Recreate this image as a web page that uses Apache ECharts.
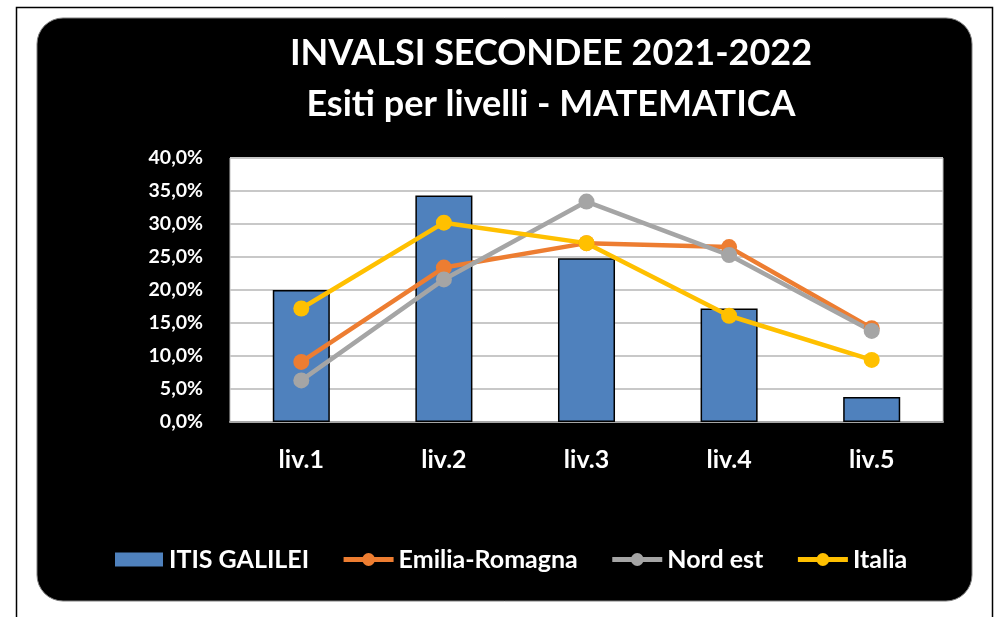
<!DOCTYPE html>
<html>
<head>
<meta charset="utf-8">
<script src="https://cdn.jsdelivr.net/npm/echarts@6/dist/echarts.min.js"></script>
<style>
  html, body { margin: 0; padding: 0; background: #ffffff; }
  #chart { width: 997px; height: 617px; }
</style>
</head>
<body>
<div id="chart"></div>
<script>
// livelli di apprendimento
const levels = ['liv.1', 'liv.2', 'liv.3', 'liv.4', 'liv.5'];

// percentuali per serie
const itisGalilei = [20.0, 34.3, 24.8, 17.2, 3.8];
const emiliaRomagna = [9.1, 23.4, 27.1, 26.5, 14.2];
const nordEst = [6.3, 21.6, 33.4, 25.3, 13.8];
const italia = [17.2, 30.2, 27.1, 16.1, 9.4];

const FONT = 'Lato, "Open Sans", sans-serif';

const chart = echarts.init(document.getElementById('chart'));

// stile comune delle linee
const lineSeries = (name, data, color) => ({
  name: name,
  type: 'line',
  data: data,
  symbol: 'circle',
  symbolSize: 16,
  lineStyle: { color: color, width: 4.5 },
  itemStyle: { color: color },
  emphasis: { disabled: true }
});

// voce di legenda per le linee, tratto spesso
const lineLegend = name => ({ name: name, lineStyle: { width: 5 } });

const option = {
  animation: false,
  textStyle: { fontFamily: FONT },
  graphic: [
    {
      type: 'rect',
      z: -10,
      shape: { x: 16.5, y: 7.5, width: 976, height: 640 },
      style: { fill: '#ffffff', stroke: '#000000', lineWidth: 1.5 }
    },
    {
      type: 'rect',
      z: -9,
      shape: { x: 37, y: 18, width: 935, height: 583, r: 26 },
      style: { fill: '#000000', stroke: '#7f7f7f', lineWidth: 1 }
    }
  ],
  title: {
    text: 'INVALSI SECONDEE 2021-2022\nEsiti per livelli - MATEMATICA',
    left: 546,
    top: 23,
    textAlign: 'center',
    textStyle: {
      color: '#ffffff',
      fontFamily: FONT,
      fontWeight: 'bold',
      fontSize: 36,
      lineHeight: 51
    }
  },
  legend: {
    bottom: 40,
    left: 108,
    itemGap: 32,
    itemWidth: 50,
    itemHeight: 16,
    selectedMode: false,
    textStyle: { color: '#ffffff', fontFamily: FONT, fontWeight: 'bold', fontSize: 25 },
    data: [
      { name: 'ITIS GALILEI', icon: 'rect' },
      lineLegend('Emilia-Romagna'),
      lineLegend('Nord est'),
      lineLegend('Italia')
    ]
  },
  grid: {
    left: 230,
    right: 54,
    top: 158,
    bottom: 195,
    show: true,
    backgroundColor: '#ffffff',
    borderColor: '#bfbfbf',
    borderWidth: 1
  },
  xAxis: {
    type: 'category',
    data: levels,
    axisTick: { show: false },
    axisLine: { lineStyle: { color: '#a6a6a6', width: 2 } },
    axisLabel: {
      color: '#ffffff',
      fontFamily: FONT,
      fontWeight: 'bold',
      fontSize: 25,
      margin: 25
    }
  },
  yAxis: {
    type: 'value',
    min: 0,
    max: 40,
    interval: 5,
    axisLine: { show: false },
    axisTick: { show: false },
    splitLine: { lineStyle: { color: '#c8c8c8', width: 2 } },
    axisLabel: {
      color: '#ffffff',
      fontFamily: FONT,
      fontWeight: 'bold',
      fontSize: 19.5,
      margin: 27,
      formatter: v => v.toFixed(1).replace('.', ',') + '%'
    }
  },
  series: [
    {
      name: 'ITIS GALILEI',
      type: 'bar',
      data: itisGalilei,
      barWidth: '40%',
      itemStyle: { color: '#4f81bd', borderColor: '#000000', borderWidth: 1.5 },
      emphasis: { disabled: true }
    },
    lineSeries('Emilia-Romagna', emiliaRomagna, '#ed7d31'),
    lineSeries('Nord est', nordEst, '#a5a5a5'),
    lineSeries('Italia', italia, '#ffc000')
  ]
};

chart.setOption(option);
</script>
</body>
</html>
